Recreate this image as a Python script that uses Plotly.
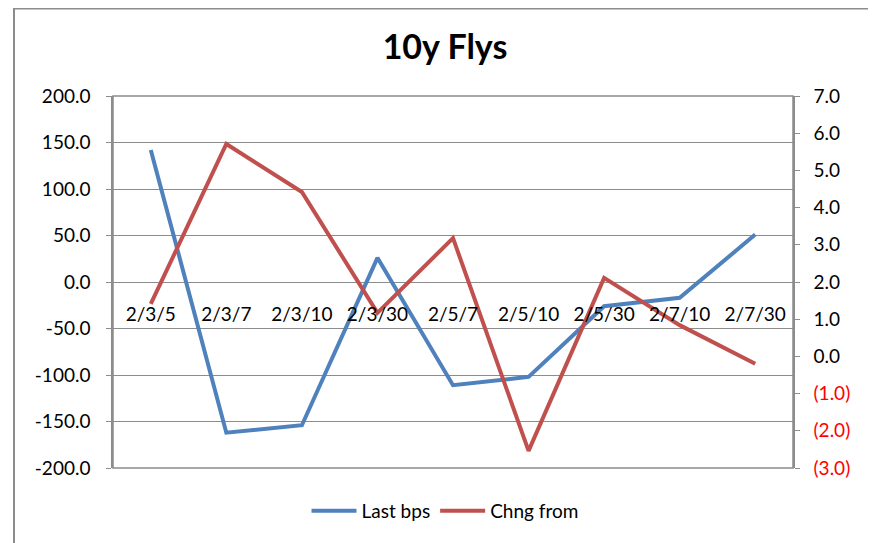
import plotly.graph_objects as go

categories = ["2/3/5", "2/3/7", "2/3/10", "2/3/30", "2/5/7", "2/5/10", "2/5/30", "2/7/10", "2/7/30"]
last_bps = [142, -162, -154, 26, -111, -102, -26, -17, 51]
chng_from = [1.41, 5.71, 4.42, 1.17, 3.18, -2.54, 2.11, 0.84, -0.2]

left_ticks = [-200, -150, -100, -50, 0, 50, 100, 150, 200]
right_ticks = [-3, -2, -1, 0, 1, 2, 3, 4, 5, 6, 7]


def fmt_right(v):
    if v < 0:
        return '<span style="color:#FF0000">(%.1f)</span>' % abs(v)
    return "%.1f" % v


right_text = [fmt_right(v) for v in right_ticks]
left_text = ["%.1f" % v for v in left_ticks]

FONT = "Lato"
GRID = "#8C8C8C"
BLUE = "#4F81BD"
RED = "#C0504D"

fig = go.Figure()
fig.add_trace(go.Scatter(x=categories, y=last_bps, name="Last bps", mode="lines",
                         line=dict(color=BLUE, width=4), yaxis="y"))
fig.add_trace(go.Scatter(x=categories, y=chng_from, name="Chng from", mode="lines",
                         line=dict(color=RED, width=4), yaxis="y2"))

OFF = 8  # page body margin
W, H = 876 - OFF, 543 - OFF
# plot area in screen px: x 113..793, y 96..468
L = 113 - OFF
T = 96 - OFF
R = W - (793 - OFF)
B = H - (468 - OFF)
pw, ph = W - L - R, H - T - B


def px(x):
    return (x - OFF - L) / pw


def py(y):
    return (H - B - (y - OFF)) / ph


fig.update_layout(
    width=W, height=H,
    margin=dict(l=L, r=R, t=T, b=B),
    paper_bgcolor="white", plot_bgcolor="white",
    font=dict(family=FONT, size=19, color="black"),
    title=dict(text="<b>10y Flys</b>", x=px(445), xref="paper", xanchor="center",
               y=1 - (47 - OFF) / H, yanchor="middle", font=dict(size=34, family=FONT)),
    xaxis=dict(type="category", range=[-0.5, 8.5], anchor="free", position=0.5,
               showgrid=False, showline=False, ticks="", ticklabelstandoff=19,
               tickfont=dict(size=19), zeroline=False),
    yaxis=dict(range=[-200, 200], tickvals=left_ticks, ticktext=left_text,
               showgrid=True, gridcolor=GRID, gridwidth=1, zeroline=False,
               showline=True, linecolor=GRID, linewidth=1.5, ticks="outside", ticklen=5,
               tickcolor=GRID, ticklabelstandoff=12, tickfont=dict(size=19)),
    yaxis2=dict(range=[-3, 7], overlaying="y", side="right", tickvals=right_ticks,
                ticktext=right_text, showgrid=False, zeroline=False,
                showline=True, linecolor=GRID, linewidth=1.5, ticks="outside", ticklen=5,
                tickcolor=GRID, ticklabelstandoff=10, tickfont=dict(size=19)),
    legend=dict(orientation="h", x=px(445), xanchor="center", y=py(511), yanchor="middle",
                font=dict(size=19), bgcolor="rgba(0,0,0,0)", itemwidth=45),
    showlegend=True,
    shapes=[
        dict(type="rect", xref="x domain", yref="y domain", x0=0, x1=1, y0=0, y1=1,
             line=dict(color=GRID, width=1.5), fillcolor="rgba(0,0,0,0)", layer="below"),
        dict(type="rect", xref="paper", yref="paper", x0=px(14), x1=px(874), y0=py(570), y1=py(8.5),
             line=dict(color="#8C8C8C", width=2), fillcolor="rgba(0,0,0,0)", layer="below"),
    ],
)

fig.write_html("out.html")
